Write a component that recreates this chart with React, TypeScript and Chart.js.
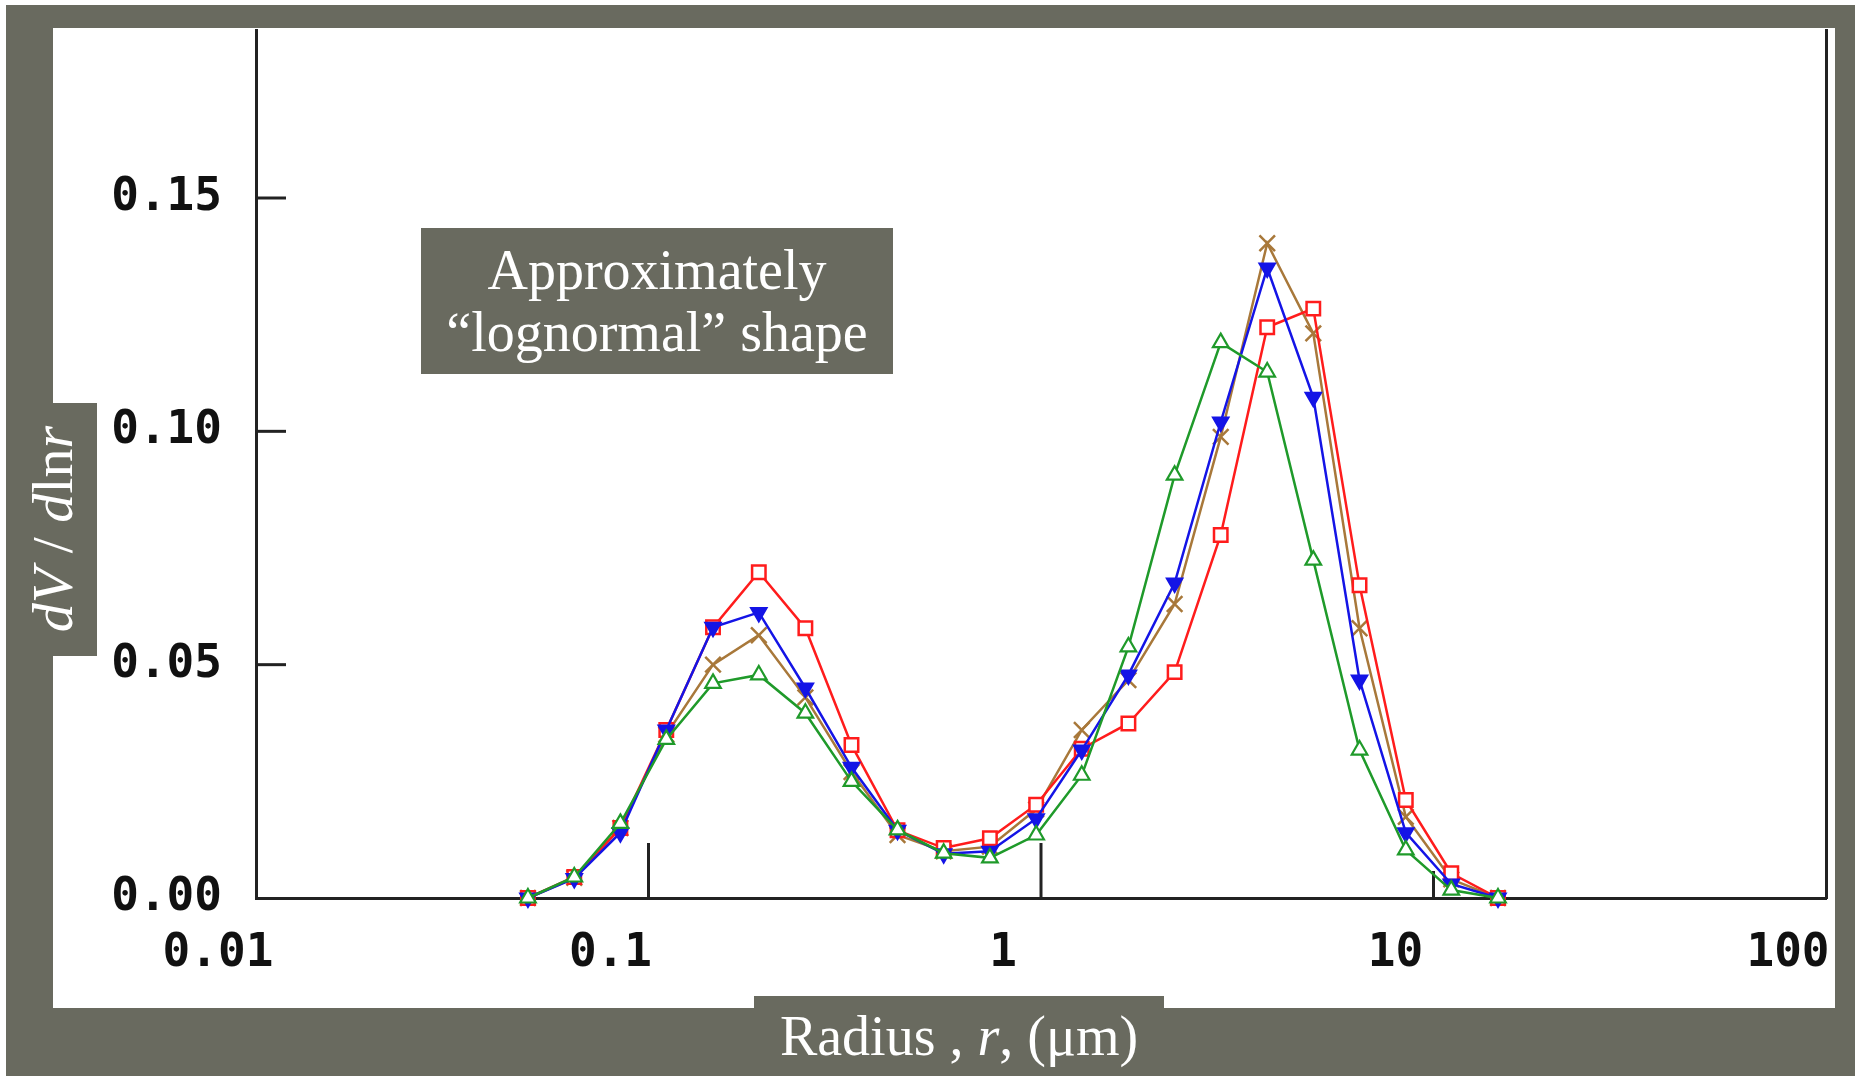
import React, { useEffect, useRef } from 'react';
import { Chart, registerables } from 'chart.js';

Chart.register(...registerables);

// ---- data ----
const radius = [0.0493, 0.0647, 0.0848, 0.111, 0.146, 0.191, 0.251, 0.329, 0.431, 0.565, 0.741, 0.972, 1.27, 1.67, 2.19, 2.87, 3.77, 4.94, 6.48, 8.5, 11.1, 14.6];
const redSeries = [0, 0.0045, 0.015, 0.036, 0.058, 0.0698, 0.0578, 0.0328, 0.0145, 0.0107, 0.0128, 0.02, 0.032, 0.0374, 0.0484, 0.0778, 0.1223, 0.1263, 0.067, 0.021, 0.0053, 0];
const blueSeries = [0, 0.0042, 0.014, 0.036, 0.058, 0.0612, 0.045, 0.028, 0.0145, 0.0095, 0.01, 0.017, 0.0317, 0.0478, 0.0675, 0.102, 0.135, 0.1073, 0.0467, 0.014, 0.003, 0];
const brownSeries = [0, 0.0043, 0.015, 0.035, 0.05, 0.0563, 0.043, 0.027, 0.0135, 0.01, 0.011, 0.019, 0.036, 0.0467, 0.063, 0.0988, 0.1403, 0.121, 0.0578, 0.0174, 0.004, 0];
const greenSeries = [0, 0.0045, 0.016, 0.034, 0.046, 0.0478, 0.0396, 0.025, 0.0146, 0.0096, 0.0086, 0.0135, 0.0263, 0.0538, 0.0906, 0.119, 0.1127, 0.0724, 0.0317, 0.0103, 0.0017, 0];

const xTickValues = [0.01, 0.1, 1, 10, 100];
const xTickLabels = ['0.01', '0.1', '1', '10', '100'];
const yTickValues = [0, 0.05, 0.1, 0.15];
const yTickLabels = ['0.00', '0.05', '0.10', '0.15'];

const X_MIN = 0.01;
const X_MAX = 100;
const Y_MIN = 0;
const Y_MAX = 0.186;

// ---- styles ----
const GRAY = '#696a5f';
const AXIS = '#222222';
const RED = '#ff1c1c';
const BLUE = '#1414e6';
const BROWN = '#a8783a';
const GREEN = '#1f9a2a';
const TICK_FONT = { family: '"DejaVu Sans Mono", monospace', size: 46, weight: 'bold' as const };
const SERIF = '"Liberation Serif", "Times New Roman", serif';

const innerTicks = {
  id: 'innerTicks',
  beforeDatasetsDraw(chart: any) {
    const { ctx, chartArea, scales } = chart;
    const x = scales.x;
    const y = scales.y;
    ctx.save();
    ctx.strokeStyle = AXIS;
    ctx.lineWidth = 3;
    xTickValues.forEach((v) => {
      if (v <= X_MIN || v >= X_MAX) return;
      const px = x.getPixelForValue(v);
      const len = v === 10 ? 27 : 55;
      ctx.beginPath();
      ctx.moveTo(px, chartArea.bottom);
      ctx.lineTo(px, chartArea.bottom - len);
      ctx.stroke();
    });
    yTickValues.forEach((v) => {
      if (v === Y_MIN) return;
      const py = y.getPixelForValue(v);
      ctx.beginPath();
      ctx.moveTo(chartArea.left, py);
      ctx.lineTo(chartArea.left + 30, py);
      ctx.stroke();
    });
    ctx.restore();
  },
};

const zeroPad = (s: any) => {
  s.paddingLeft = 0;
  s.paddingRight = 0;
  s.paddingTop = 0;
  s.paddingBottom = 0;
};

const toPoints = (vals: number[]) => radius.map((r, i) => ({ x: r, y: vals[i] }));

export default function App() {
  const ref = useRef<HTMLCanvasElement>(null);

  useEffect(() => {
    const chart = new Chart(ref.current as HTMLCanvasElement, {
      type: 'line',
      data: {
        datasets: [
          {
            label: 'green',
            data: toPoints(greenSeries),
            borderColor: GREEN,
            borderWidth: 2.5,
            pointStyle: 'triangle',
            pointRadius: 9,
            pointBorderWidth: 2.2,
            pointBorderColor: GREEN,
            pointBackgroundColor: '#ffffff',
            clip: false,
          },
          {
            label: 'blue',
            data: toPoints(blueSeries),
            borderColor: BLUE,
            borderWidth: 2.5,
            pointStyle: 'triangle',
            pointRotation: 180,
            pointRadius: 9,
            pointBorderWidth: 2,
            pointBorderColor: BLUE,
            pointBackgroundColor: BLUE,
            clip: false,
          },
          {
            label: 'red',
            data: toPoints(redSeries),
            borderColor: RED,
            borderWidth: 2.5,
            pointStyle: 'rect',
            pointRadius: 9.5,
            pointBorderWidth: 2.5,
            pointBorderColor: RED,
            pointBackgroundColor: '#ffffff',
            clip: false,
          },
          {
            label: 'brown',
            data: toPoints(brownSeries),
            borderColor: BROWN,
            borderWidth: 2.5,
            pointStyle: 'crossRot',
            pointRadius: 11,
            pointBorderWidth: 2.5,
            pointBorderColor: BROWN,
            clip: false,
          },
        ],
      } as any,
      options: {
        animation: false,
        responsive: false,
        devicePixelRatio: 1,
        layout: { padding: { left: 0, right: 36, top: 30, bottom: 0 } },
        plugins: {
          legend: { display: false },
          tooltip: { enabled: false },
        },
        elements: { line: { tension: 0 } },
        scales: {
          x: {
            type: 'logarithmic',
            position: 'bottom',
            min: X_MIN,
            max: X_MAX,
            afterFit: (s: any) => {
              s.height = 183;
              zeroPad(s);
            },
            afterBuildTicks: (s: any) => {
              s.ticks = xTickValues.map((v) => ({ value: v }));
            },
            ticks: {
              autoSkip: false,
              maxRotation: 0,
              minRotation: 0,
              padding: 28,
              labelOffset: -38,
              color: '#111111',
              font: TICK_FONT,
              callback: (_v: any, i: number) => xTickLabels[i],
            },
            grid: { display: true, drawOnChartArea: false, drawTicks: false, color: AXIS },
            border: { display: true, color: AXIS, width: 3 },
          },
          y: {
            type: 'linear',
            position: 'left',
            min: Y_MIN,
            max: Y_MAX,
            afterFit: (s: any) => {
              s.width = 256;
              zeroPad(s);
            },
            afterBuildTicks: (s: any) => {
              s.ticks = yTickValues.map((v) => ({ value: v }));
            },
            ticks: {
              padding: 34,
              color: '#111111',
              font: TICK_FONT,
              callback: (_v: any, i: number) => yTickLabels[i],
            },
            grid: { display: true, drawOnChartArea: false, drawTicks: false, color: AXIS },
            border: { display: true, color: AXIS, width: 3 },
          },
          y2: {
            type: 'linear',
            position: 'right',
            min: Y_MIN,
            max: Y_MAX,
            afterFit: (s: any) => {
              s.width = 0;
              zeroPad(s);
            },
            ticks: { display: false },
            grid: { display: true, drawOnChartArea: false, drawTicks: false, color: AXIS },
            border: { display: true, color: AXIS, width: 3 },
          },
        },
      } as any,
      plugins: [innerTicks],
    });
    return () => chart.destroy();
  }, []);

  return (
    <div style={{ position: 'fixed', left: 0, top: 0, width: 1862, height: 1081, background: '#ffffff', overflow: 'hidden' }}>
      <div style={{ position: 'absolute', left: 6, top: 5, width: 1849, height: 1071, background: GRAY }} />
      <div style={{ position: 'absolute', left: 53, top: 28, width: 1782, height: 980, background: '#ffffff' }} />
      <canvas ref={ref} width={1862} height={1081} style={{ position: 'absolute', left: 0, top: 0 }} />
      {/* annotation box */}
      <div
        style={{
          position: 'absolute',
          left: 421,
          top: 228,
          width: 472,
          height: 146,
          background: GRAY,
          color: '#ffffff',
          fontFamily: SERIF,
          fontSize: 56,
          lineHeight: '62px',
          textAlign: 'center',
          display: 'flex',
          flexDirection: 'column',
          justifyContent: 'center',
        }}
      >
        <div>Approximately</div>
        <div>“lognormal” shape</div>
      </div>
      {/* y title box */}
      <div
        style={{
          position: 'absolute',
          left: 9,
          top: 403,
          width: 88,
          height: 253,
          background: GRAY,
          color: '#ffffff',
          fontFamily: SERIF,
          fontSize: 58,
          display: 'flex',
          alignItems: 'center',
          justifyContent: 'center',
        }}
      >
        <div style={{ writingMode: 'vertical-rl', transform: 'rotate(180deg)', whiteSpace: 'nowrap', lineHeight: 1 }}>
          <i>dV</i> / <i>d</i>ln<i>r</i>
        </div>
      </div>
      {/* x title box */}
      <div
        style={{
          position: 'absolute',
          left: 754,
          top: 996,
          width: 410,
          height: 80,
          background: GRAY,
          color: '#ffffff',
          fontFamily: SERIF,
          fontSize: 56,
          display: 'flex',
          alignItems: 'center',
          justifyContent: 'center',
          whiteSpace: 'nowrap',
        }}
      >
        <span>
          Radius , <i>r</i>, (μm)
        </span>
      </div>
    </div>
  );
}
